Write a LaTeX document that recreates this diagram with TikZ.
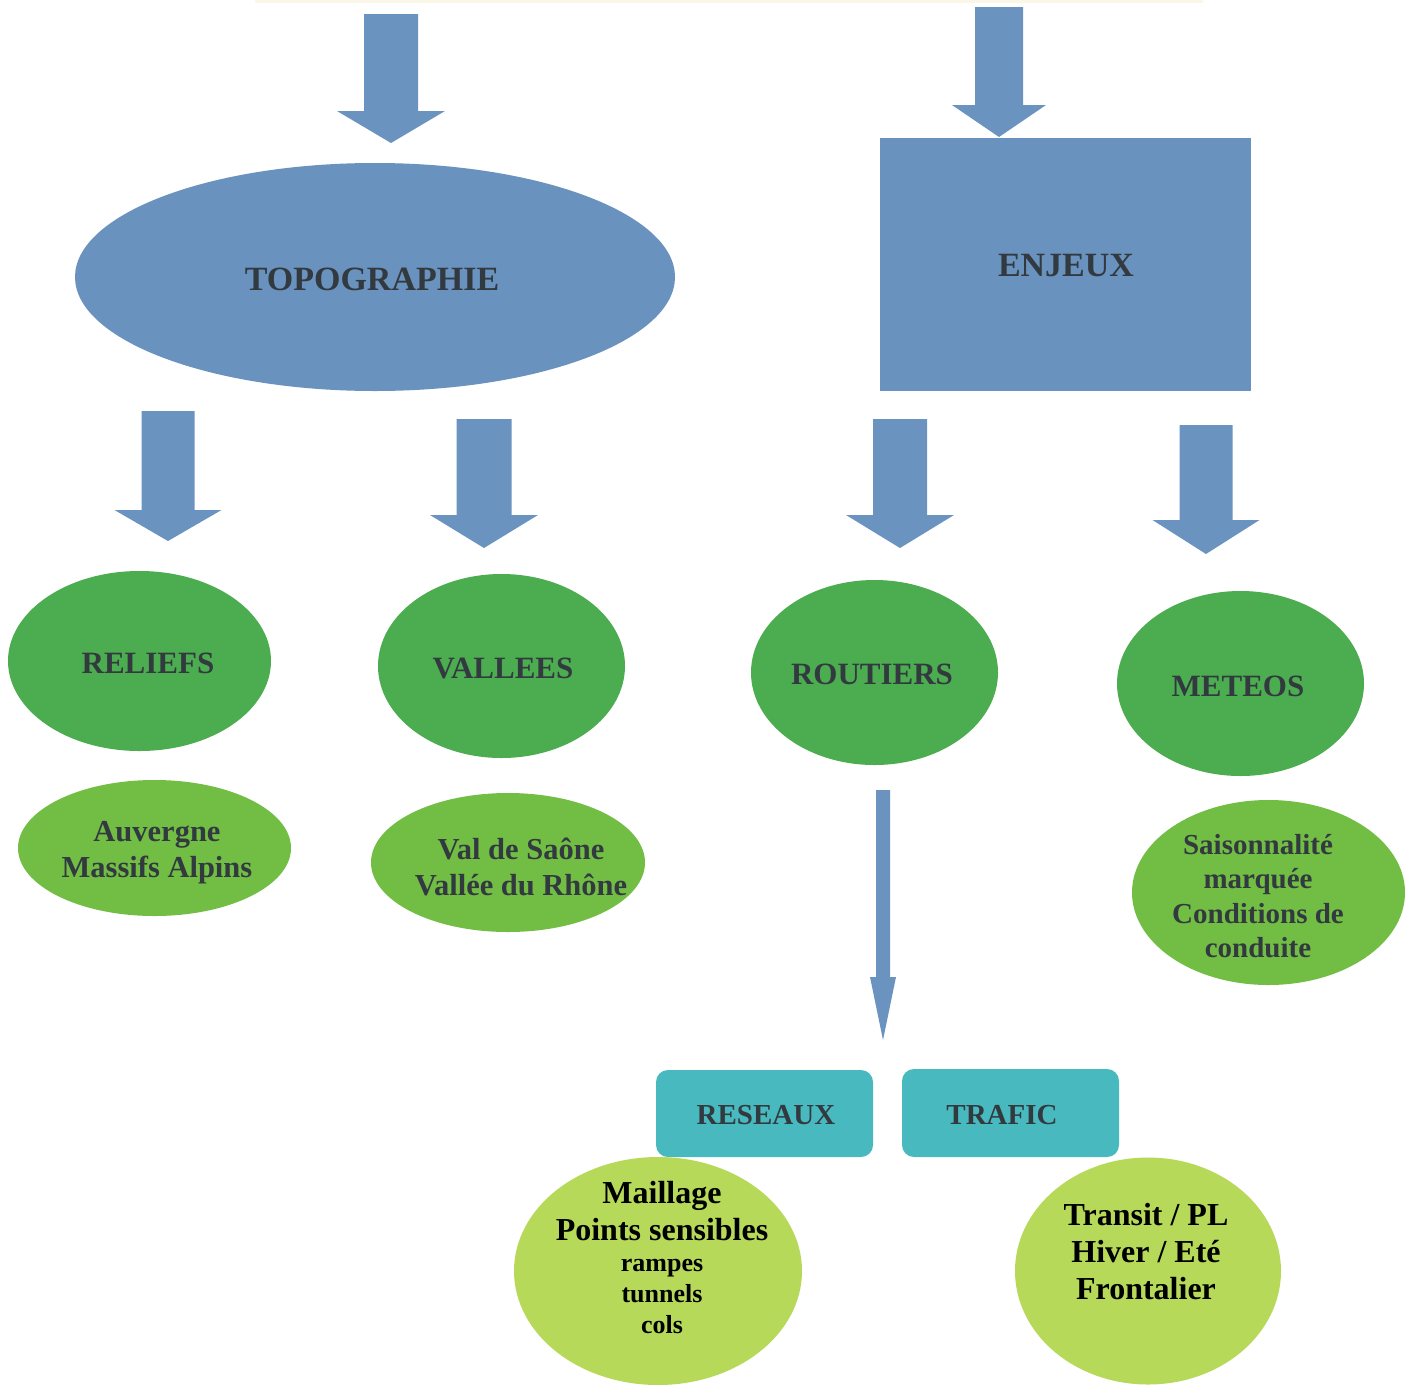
\documentclass[tikz,border=0pt]{standalone}
\usepackage{fontspec}
\setmainfont{Liberation Serif}
\usetikzlibrary{shapes.geometric}
\definecolor{arrowblue}{RGB}{107,147,191}
\definecolor{boxblue}{RGB}{106,146,190}
\definecolor{darkgreen}{RGB}{76,173,80}
\definecolor{midgreen}{RGB}{114,190,68}
\definecolor{lightgreen}{RGB}{183,217,90}
\definecolor{tealbox}{RGB}{72,185,190}
\definecolor{textgray}{RGB}{50,58,64}
\definecolor{faintline}{RGB}{250,246,232}
\newcommand{\blockarr}[6]{%
  \fill[arrowblue] (#1-#3,#2) -- (#1+#3,#2) -- (#1+#3,#4) -- (#1+#5,#4) -- (#1,#6) -- (#1-#5,#4) -- (#1-#3,#4) -- cycle;}
\tikzset{
  shapeell/.style={ellipse, inner sep=0pt, draw=none},
  headtxt/.style={font=\bfseries\fontsize{31}{34}\selectfont, text=textgray, inner sep=0pt},
  bigtxt/.style={font=\bfseries\fontsize{34}{36}\selectfont, text=textgray, inner sep=0pt},
  subtxt/.style={font=\bfseries\fontsize{30.5}{36}\selectfont, text=textgray, align=center, inner sep=0pt},
  bottxt/.style={font=\bfseries\fontsize{32}{37}\selectfont, text=black, align=center, inner sep=0pt},
}
\begin{document}
\begin{tikzpicture}[x=1pt,y=-1pt]
\useasboundingbox[fill=white] (0,0) rectangle (1405,1384);
% faint top line
\fill[faintline] (255,0) rectangle (1203,2.5);
% top arrows
\blockarr{391}{14}{27}{111}{54}{143}
\blockarr{999}{7}{24}{105}{47}{137}
% level 1
\node[shapeell, fill=boxblue, minimum width=600pt, minimum height=228pt] (topo) at (375,277) {};
\node[bigtxt] (topot) at (372,279) {TOPOGRAPHIE};
\node[rectangle, fill=boxblue, inner sep=0pt, minimum width=371pt, minimum height=253pt] (enjeux) at (1065.5,264) {};
\node[bigtxt] (enjeuxt) at (1066,266) {ENJEUX};
% level 2 arrows
\blockarr{168}{411}{26.5}{510}{53.5}{541}
\blockarr{484}{419}{27.5}{515}{54}{548}
\blockarr{900}{419}{27}{515}{54}{548}
\blockarr{1206}{425}{26.5}{520}{53.5}{554}
% level 2 ellipses
\node[shapeell, fill=darkgreen, minimum width=263pt, minimum height=180pt] (reliefs) at (139.5,661) {};
\node[headtxt] (reliefst) at (148,663) {RELIEFS};
\node[shapeell, fill=darkgreen, minimum width=247pt, minimum height=184pt] (vallees) at (501.5,666) {};
\node[headtxt] (valleest) at (503,668) {VALLEES};
\node[shapeell, fill=darkgreen, minimum width=247pt, minimum height=185pt] (routiers) at (874.5,672.5) {};
\node[headtxt] (routierst) at (872,674) {ROUTIERS};
\node[shapeell, fill=darkgreen, minimum width=247pt, minimum height=185pt] (meteos) at (1240.5,683.5) {};
\node[headtxt] (meteost) at (1238,686) {METEOS};
% level 3 ellipses
\node[shapeell, fill=midgreen, minimum width=273pt, minimum height=136pt] (auv) at (154.5,848) {};
\node[subtxt] (auvt) at (157,853) {Auvergne\\Massifs Alpins};
\node[shapeell, fill=midgreen, minimum width=274pt, minimum height=139pt] (val) at (508,862.5) {};
\node[subtxt] (valt) at (521,867) {Val de Saône\\Vallée du Rhône};
\node[shapeell, fill=midgreen, minimum width=273pt, minimum height=185pt] (sais) at (1268.5,892.5) {};
\node[subtxt, font=\bfseries\fontsize{29}{34.5}\selectfont] (saist) at (1258,896) {Saisonnalité\\marquée\\Conditions de\\conduite};
% thin arrow
\blockarr{883}{790}{7}{977}{13}{1040}
% boxes
\node[rectangle, rounded corners=12pt, fill=tealbox, inner sep=0pt, minimum width=217pt, minimum height=87pt] (reseaux) at (764.5,1113.5) {};
\node[headtxt, font=\bfseries\fontsize{29}{32}\selectfont] (reseauxt) at (766,1115) {RESEAUX};
\node[rectangle, rounded corners=12pt, fill=tealbox, inner sep=0pt, minimum width=217pt, minimum height=88pt] (trafic) at (1010.5,1113) {};
\node[headtxt, font=\bfseries\fontsize{29}{32}\selectfont] (trafict) at (1002,1115) {TRAFIC};
% bottom ellipses
\node[shapeell, fill=lightgreen, minimum width=288pt, minimum height=228pt] (maill) at (658,1271) {};
\node[bottxt] (maillt) at (662,1258) {Maillage\\Points sensibles\\[-6pt]{\fontsize{26}{30}\selectfont rampes}\\[-6pt]{\fontsize{26}{30}\selectfont tunnels}\\[-6pt]{\fontsize{26}{30}\selectfont cols}};
\node[shapeell, fill=lightgreen, minimum width=266pt, minimum height=227pt] (trans) at (1148,1271) {};
\node[bottxt] (transt) at (1146,1252) {Transit / PL\\Hiver / Eté\\Frontalier};
\end{tikzpicture}
\end{document}
